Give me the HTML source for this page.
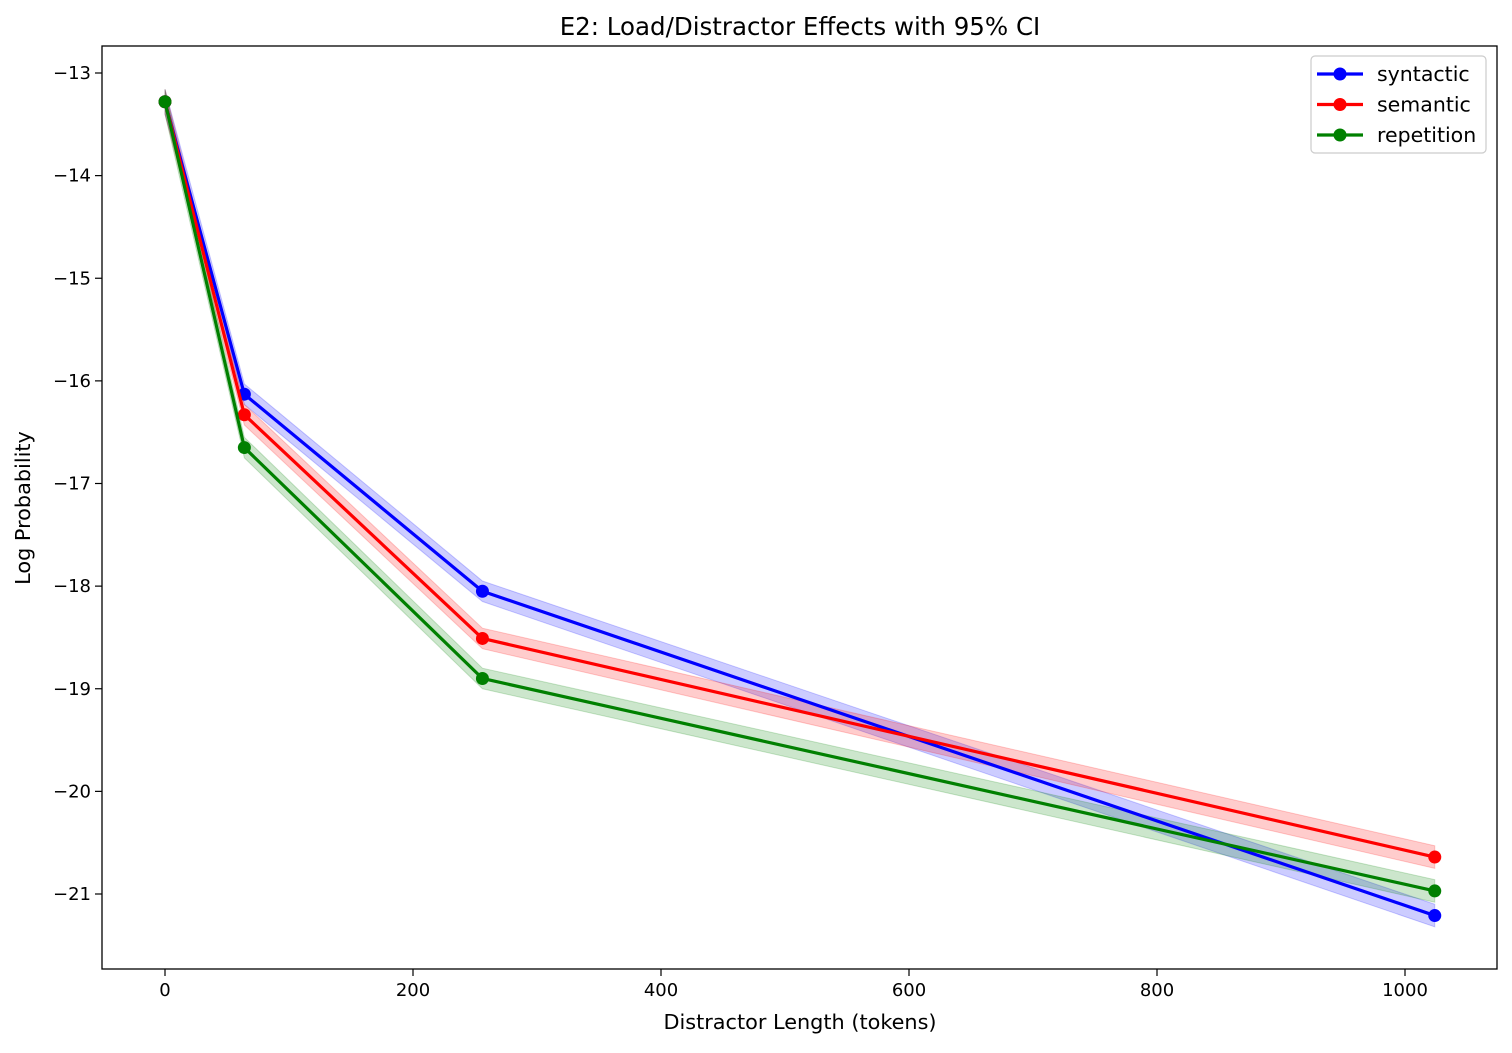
<!DOCTYPE html>
<html><head><meta charset="utf-8"><style>
body{margin:0;background:#fff;}
svg text{font-family:"DejaVu Sans","Liberation Sans",sans-serif;fill:#000;}
</style></head><body>
<svg id="chart" width="1512" height="1048" xmlns="http://www.w3.org/2000/svg"></svg>
<script>
const xValues=[0,64,256,1024];
const syntacticVals=[-13.28,-16.13,-18.05,-21.21];
const semanticVals=[-13.28,-16.33,-18.51,-20.64];
const repetitionVals=[-13.28,-16.65,-18.90,-20.97];
const ciHalf=[0.12,0.1,0.1,0.11];
const seriesNames=["syntactic","semantic","repetition"];
const xTicks=[0,200,400,600,800,1000];
const yTicks=[-13,-14,-15,-16,-17,-18,-19,-20,-21];

const L=102,T=46,R=1497,B=969;
const X=v=>165+(v-0)*(1405-165)/1000;
const Y=v=>73+(-13-v)*(894-73)/8;
const svg=document.getElementById('chart');
const NS='http://www.w3.org/2000/svg';
function mk(tag,attrs,parent){const e=document.createElementNS(NS,tag);for(const k in attrs)e.setAttribute(k,attrs[k]);(parent||svg).appendChild(e);return e;}

const title=mk('text',{x:800,y:35,'text-anchor':'middle','font-size':24.5});


title.textContent='E2: Load/Distractor Effects with 95% CI';

const colors=['#0000ff','#ff0000','#008000'];
const data=[syntacticVals,semanticVals,repetitionVals];
data.forEach((vals,i)=>{
  let up=xValues.map((x,j)=>X(x)+','+Y(vals[j]+ciHalf[j])).join(' ');
  let dn=xValues.map((x,j)=>X(x)+','+Y(vals[j]-ciHalf[j])).reverse().join(' ');
  const band=mk('polygon',{points:up+' '+dn,fill:colors[i],'fill-opacity':0.2,stroke:colors[i],'stroke-opacity':0.2});
  
  
});
data.forEach((vals,i)=>{
  const line=mk('polyline',{points:xValues.map((x,j)=>X(x)+','+Y(vals[j])).join(' '),fill:'none',stroke:colors[i],'stroke-width':3.2,'stroke-linejoin':'round'});
  
  
  xValues.forEach((x,j)=>{
    const c=mk('circle',{cx:X(x),cy:Y(vals[j]),r:6.5,fill:colors[i]});
    
    
  });
});

const frame=mk('rect',{x:L,y:T,width:R-L,height:B-T,fill:'none',stroke:'#000','stroke-width':1.3});



xTicks.forEach(t=>{
  mk('line',{x1:X(t),x2:X(t),y1:B,y2:B+7,stroke:'#000','stroke-width':1.2});
  const tx=mk('text',{x:X(t),y:B+27,'text-anchor':'middle','font-size':18});
  
  
  tx.textContent=t;
});
yTicks.forEach(t=>{
  mk('line',{x1:L-7,x2:L,y1:Y(t),y2:Y(t),stroke:'#000','stroke-width':1.2});
  const tx=mk('text',{x:L-11,y:Y(t)+6,'text-anchor':'end','font-size':18});
  
  
  tx.textContent='\u2212'+Math.abs(t);
});
const xl=mk('text',{x:800,y:1029,'text-anchor':'middle','font-size':20.8});


xl.textContent='Distractor Length (tokens)';
const yl=mk('text',{x:30,y:508,'text-anchor':'middle','font-size':20.8,transform:'rotate(-90 30 508)'});


yl.textContent='Log Probability';

const lg=mk('g',{});


mk('rect',{x:1311,y:56,width:175,height:97,rx:4,fill:'#fff',stroke:'#ccc','stroke-width':1.2},lg);
seriesNames.forEach((n,i)=>{
  const y=74+i*30.5;
  const e=mk('g',{},lg);
  
  
  mk('line',{x1:1317,x2:1363,y1:y,y2:y,stroke:colors[i],'stroke-width':3.2},e);
  mk('circle',{cx:1340,cy:y,r:6.5,fill:colors[i]},e);
  const t=mk('text',{x:1377,y:y+7,'font-size':20.5},e);
  t.textContent=n;
});
</script>
</body></html>
